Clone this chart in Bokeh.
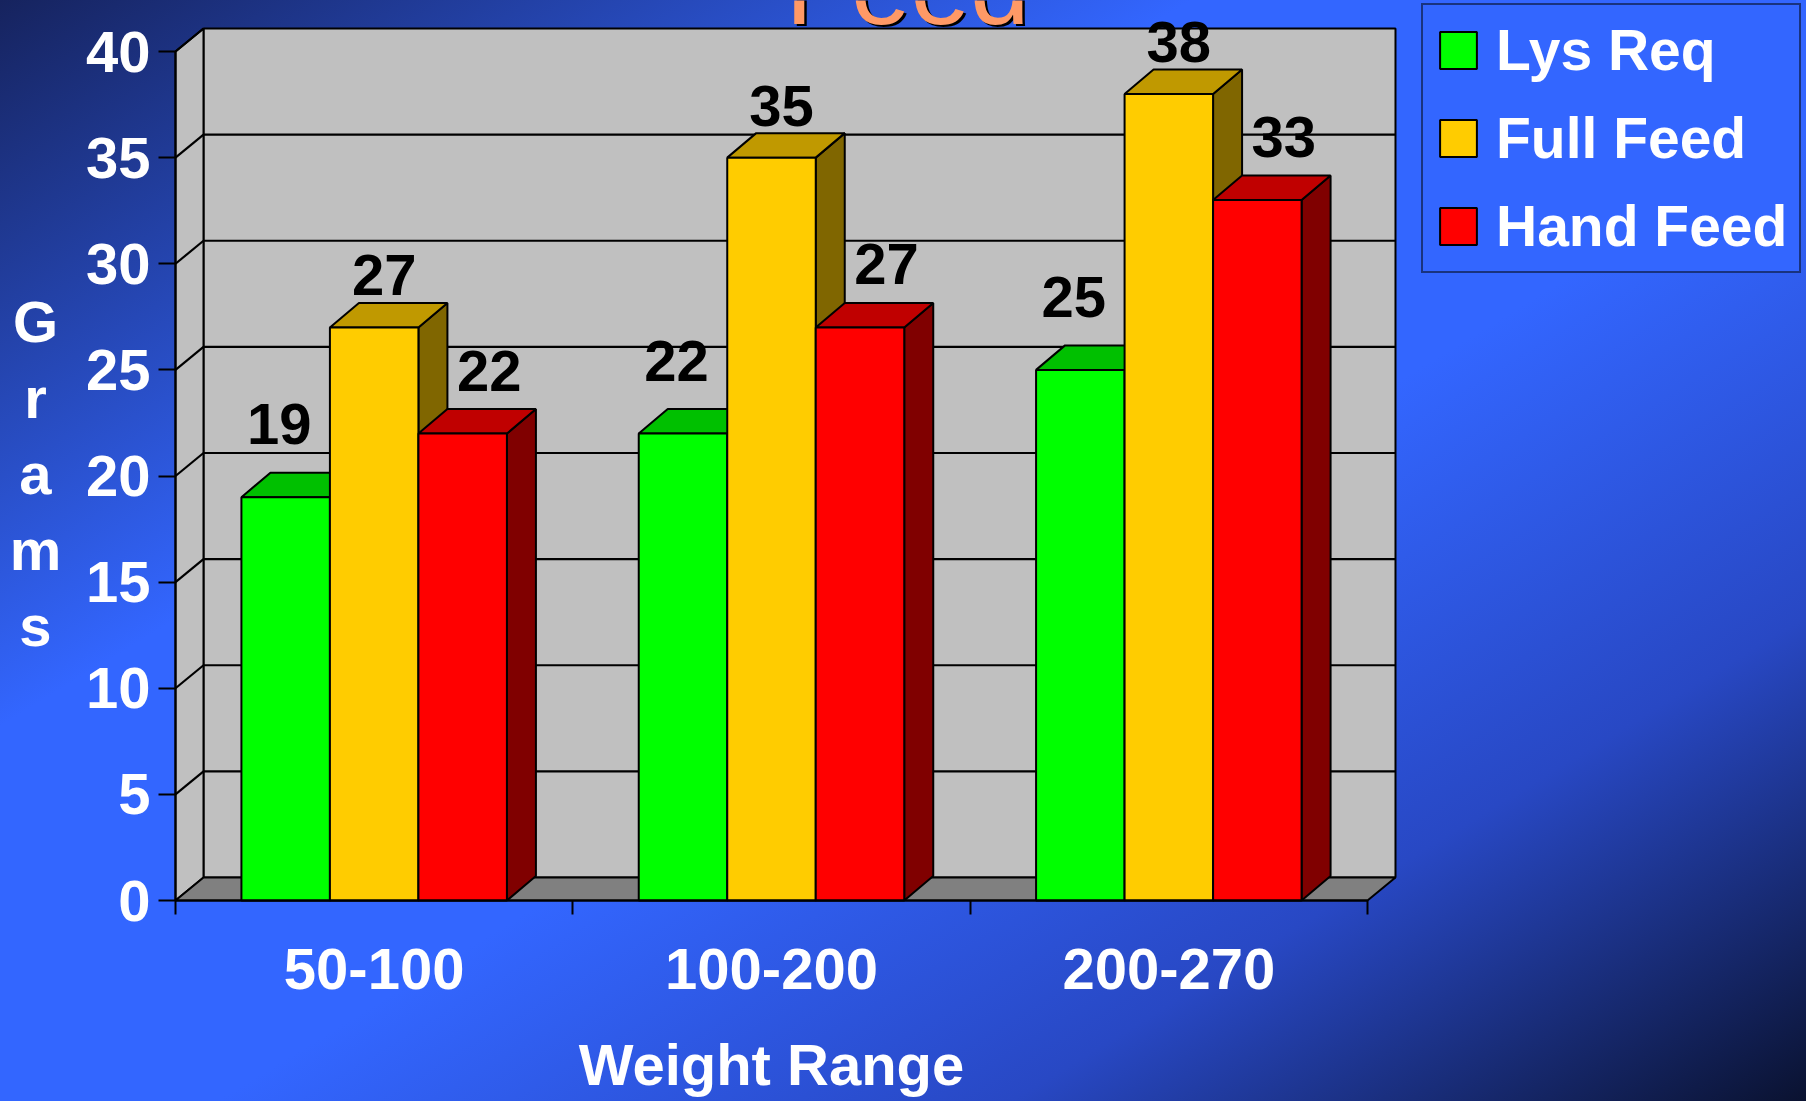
import numpy as np
from bokeh.plotting import figure
from bokeh.models import Range1d, FixedTicker, Label, Legend, LegendItem
from bokeh.core.properties import value
from bokeh.embed import file_html
from bokeh.resources import INLINE

# ---------------- data ----------------
categories = ["50-100", "100-200", "200-270"]
series_names = ["Lys Req", "Full Feed", "Hand Feed"]
lys_req = [19, 22, 25]
full_feed = [27, 35, 38]
hand_feed = [22, 27, 33]
y_ticks = [0, 5, 10, 15, 20, 25, 30, 35, 40]
x_title = "Weight Range"
y_title = "Grams"
chart_title = "Feed"

# ---------------- layout / style ----------------
FONT = "Liberation Sans"
W, H = 1806, 1101
X0_PX, Y0_PX = 175, 900      # where (0, 0) of the front plane sits on the canvas
PX_X = 397.33                # pixels per category
PX_Y = 21.225                # pixels per gram
BASE_FIX = 0.39              # label alphabetic-baseline correction (em)

n = len(categories)
y_max = y_ticks[-1]
wall_dx, wall_dy = 28 / PX_X, 23 / PX_Y
bar_dx, bar_dy = 29 / PX_X, 24.5 / PX_Y
bar_w = 88.5 / PX_X


def dx(px):  # canvas x pixel -> data x
    return (px - X0_PX) / PX_X


def dy(py):  # canvas y pixel -> data y
    return (Y0_PX - py) / PX_Y


p = figure(width=W, height=H, output_backend="svg", toolbar_location=None,
           x_range=Range1d(dx(0), dx(W)), y_range=Range1d(dy(H), dy(0)),
           min_border=0, min_border_left=0, min_border_right=0,
           min_border_top=0, min_border_bottom=0,
           border_fill_color=None, background_fill_color=None, outline_line_color=None)
p.title.visible = False
p.styles = {"background": "linear-gradient(to bottom right, #16235e 0%, #3366ff 33%, "
                          "#3366ff 56%, #2848c4 78%, #0a1230 100%)"}
p.xgrid.visible = False
p.ygrid.visible = False

# title (partially cut off at the top, as in the slide)
TITLE_SIZE = 107
tx, ty = dx(907), dy(28 - BASE_FIX * TITLE_SIZE)
p.add_layout(Label(x=tx + 2.5 / PX_X, y=ty - 2.5 / PX_Y, text=chart_title, text_font=FONT,
                   text_font_size=f"{TITLE_SIZE}px", text_color="black", text_align="center",
                   text_baseline="alphabetic"))
p.add_layout(Label(x=tx, y=ty, text=chart_title, text_font=FONT,
                   text_font_size=f"{TITLE_SIZE}px", text_color="#ff9966", text_align="center",
                   text_baseline="alphabetic"))

# ---------------- 3D walls ----------------
p.quad(left=[wall_dx], right=[n + wall_dx], bottom=[wall_dy], top=[y_max + wall_dy],
       fill_color="#c0c0c0", line_color="black", line_width=2)
p.patch(x=[0, 0, wall_dx, wall_dx], y=[0, y_max, y_max + wall_dy, wall_dy],
        fill_color="#c0c0c0", line_color="black", line_width=2)
p.patch(x=[0, n, n + wall_dx, wall_dx], y=[0, 0, wall_dy, wall_dy],
        fill_color="#808080", line_color="black", line_width=2)
gv = np.array(y_ticks[1:-1], dtype=float)
p.segment(x0=np.full(len(gv), wall_dx), x1=np.full(len(gv), n + wall_dx),
          y0=gv + wall_dy, y1=gv + wall_dy, line_color="black", line_width=2.2)
sv = np.array(y_ticks[1:], dtype=float)
p.segment(x0=np.zeros(len(sv)), x1=np.full(len(sv), wall_dx),
          y0=sv, y1=sv + wall_dy, line_color="black", line_width=2.2)

# ---------------- 3D bars ----------------
series = [
    (series_names[0], lys_req, "#00ff00", "#00c000", "#008000", -6.5, 73),
    (series_names[1], full_feed, "#ffcc00", "#c09900", "#806600", 10, 52),
    (series_names[2], hand_feed, "#ff0000", "#c00000", "#800000", 26.5, 63),
]
centers = np.arange(n) + 0.5
legend_items = []
for i, (name, vals, c_front, c_top, c_side, ldx, ldy) in enumerate(series):
    vals = np.array(vals, dtype=float)
    xc = centers + (i - 1) * bar_w
    x0 = xc - bar_w / 2
    x1 = xc + bar_w / 2
    p.patches(xs=[[a, a, a + bar_dx, a + bar_dx] for a in x1],
              ys=[[0, v, v + bar_dy, bar_dy] for v in vals],
              fill_color=c_side, line_color="black", line_width=2)
    p.patches(xs=[[a, b, b + bar_dx, a + bar_dx] for a, b in zip(x0, x1)],
              ys=[[v, v, v + bar_dy, v + bar_dy] for v in vals],
              fill_color=c_top, line_color="black", line_width=2)
    r = p.vbar(x=xc, top=vals, width=bar_w, bottom=0,
               fill_color=c_front, line_color="black", line_width=2)
    legend_items.append(LegendItem(label=name, renderers=[r]))
    p.text(x=xc + ldx / PX_X, y=vals, text=[f"{v:g}" for v in vals], y_offset=-ldy,
           text_font=value(FONT), text_font_style="bold", text_font_size="58px",
           text_color="black", text_align="center", text_baseline="middle")

# ---------------- axes (fixed on the front plane) ----------------
yax = p.yaxis[0]
yax.fixed_location = 0
yax.ticker = FixedTicker(ticks=y_ticks)
yax.bounds = (0, y_max)
yax.axis_line_color = "black"
yax.axis_line_width = 2
yax.major_tick_out = 17
yax.major_tick_in = 0
yax.major_tick_line_color = "black"
yax.major_tick_line_width = 2
yax.minor_tick_line_color = None
yax.major_label_standoff = 8
yax.major_label_text_font = FONT
yax.major_label_text_font_style = "bold"
yax.major_label_text_font_size = "58px"
yax.major_label_text_color = "white"

xax = p.xaxis[0]
xax.fixed_location = 0
xax.ticker = FixedTicker(ticks=list(centers), minor_ticks=list(range(n + 1)))
xax.major_label_overrides = {float(c): cat for c, cat in zip(centers, categories)}
xax.bounds = (0, n)
xax.axis_line_color = "black"
xax.axis_line_width = 2
xax.major_tick_line_color = None
xax.major_tick_out = 0
xax.major_tick_in = 0
xax.minor_tick_out = 14
xax.minor_tick_in = 0
xax.minor_tick_line_color = "black"
xax.minor_tick_line_width = 2
xax.major_label_standoff = 34
xax.major_label_text_font = FONT
xax.major_label_text_font_style = "bold"
xax.major_label_text_font_size = "58px"
xax.major_label_text_color = "white"

p.add_layout(Label(x=n / 2, y=dy(1087 - BASE_FIX * 58), text=x_title, text_font=FONT,
                   text_font_style="bold", text_font_size="58px", text_color="white",
                   text_align="center", text_baseline="alphabetic"))
p.add_layout(Label(x=dx(35), y=dy(473), text="\n".join(y_title),
                   text_font=FONT, text_font_style="bold", text_font_size="58px",
                   text_color="white", text_align="center", text_baseline="middle",
                   text_line_height=1.17))

# ---------------- legend ----------------
legend = Legend(items=legend_items, location=(1421, H - 273), orientation="vertical",
                padding=12, spacing=22, glyph_width=46, glyph_height=46,
                label_standoff=15, margin=0, border_line_color="black",
                border_line_width=2, background_fill_color="#3366ff",
                background_fill_alpha=1, label_text_font=FONT,
                label_text_font_style="bold", label_text_font_size="57px",
                label_text_color="white")
p.add_layout(legend)

open("out.html", "w").write(file_html(p, INLINE))
